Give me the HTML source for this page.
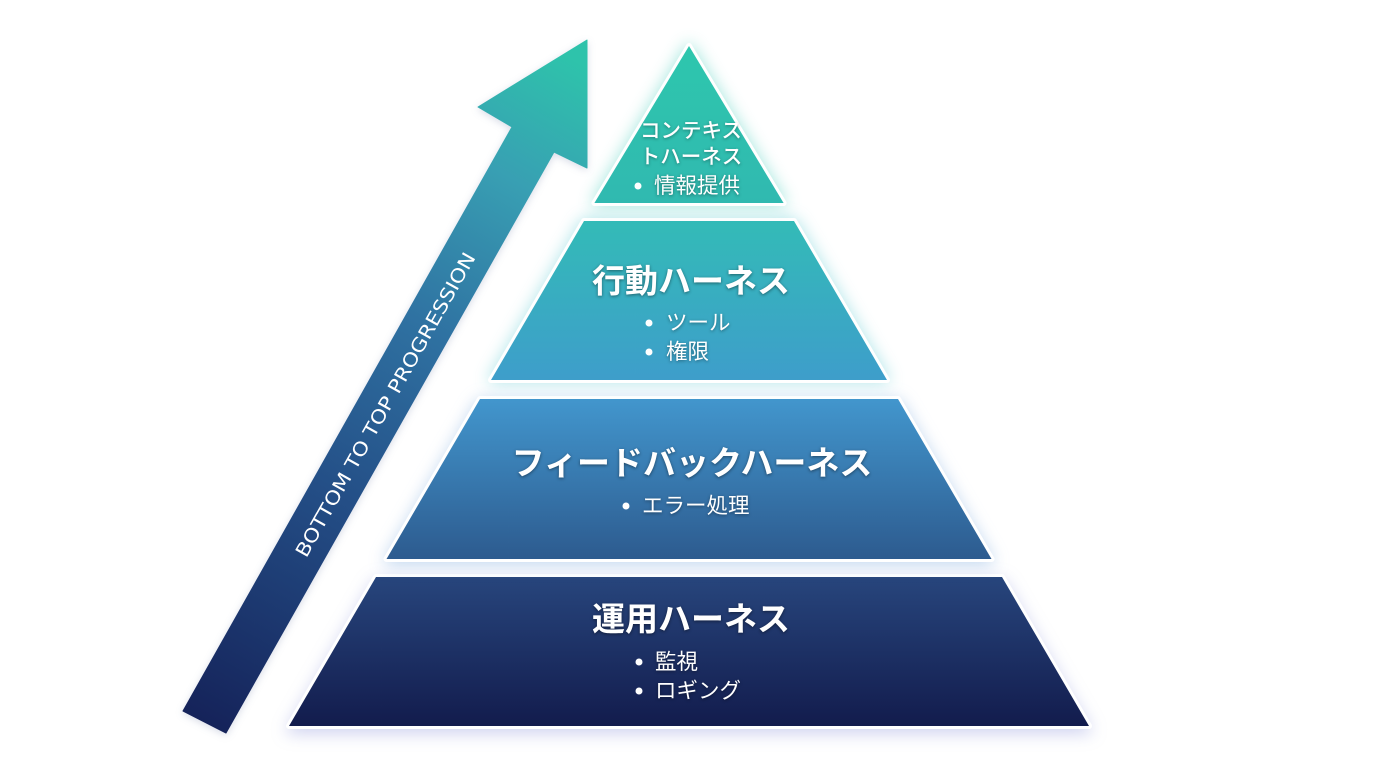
<!DOCTYPE html>
<html>
<head>
<meta charset="utf-8">
<style>
  html,body{margin:0;padding:0;background:#ffffff;}
  body{width:1376px;height:768px;overflow:hidden;}
  svg{display:block;}
  .jp{font-family:"Liberation Sans","Noto Sans CJK JP",sans-serif;fill:#ffffff;}
  .title{font-weight:700;font-size:33px;filter:drop-shadow(0 1.5px 1.5px rgba(0,0,0,0.45));}
  .item{font-weight:400;font-size:21.5px;filter:drop-shadow(0 1px 1.5px rgba(0,0,0,0.4));}
  .small{font-weight:500;font-size:20.5px;filter:drop-shadow(0 1px 1.5px rgba(0,0,0,0.35));}
</style>
</head>
<body>
<svg width="1376" height="768" viewBox="0 0 1376 768" xmlns="http://www.w3.org/2000/svg">
  <defs>
    <linearGradient id="pg" gradientUnits="userSpaceOnUse" x1="0" y1="41" x2="0" y2="729">
      <stop offset="0" stop-color="#2ec7ad"/>
      <stop offset="0.236" stop-color="#30b9b0"/>
      <stop offset="0.26" stop-color="#33bbb7"/>
      <stop offset="0.497" stop-color="#3e9dcb"/>
      <stop offset="0.52" stop-color="#4296cd"/>
      <stop offset="0.753" stop-color="#2d5b8f"/>
      <stop offset="0.78" stop-color="#27457c"/>
      <stop offset="1" stop-color="#121b4c"/>
    </linearGradient>
    <linearGradient id="ag" gradientUnits="userSpaceOnUse" x1="205" y1="722" x2="575" y2="60">
      <stop offset="0" stop-color="#15235a"/>
      <stop offset="0.35" stop-color="#244f87"/>
      <stop offset="0.6" stop-color="#2f72a2"/>
      <stop offset="0.82" stop-color="#389fb3"/>
      <stop offset="1" stop-color="#2ec3ab"/>
    </linearGradient>
  </defs>

  <!-- Arrow -->
  <g style="filter:drop-shadow(0 2px 4px rgba(40,60,120,0.18));">
    <polygon points="587,40 587,168 554,152 226,733 183,711 512,127 478,107" fill="url(#ag)" stroke="url(#ag)" stroke-width="1" stroke-linejoin="round"/>
  </g>
  <text x="386" y="405" transform="rotate(-60.6 386 405)" text-anchor="middle" dominant-baseline="central"
        font-family="'DejaVu Sans','Liberation Sans',sans-serif" font-size="19" font-weight="400" fill="#ffffff"
        textLength="346" lengthAdjust="spacingAndGlyphs">BOTTOM TO TOP PROGRESSION</text>

  <!-- Layer 4 (bottom) -->
  <g style="filter:drop-shadow(0 5px 8px rgba(90,100,200,0.28));">
    <polygon points="376,577 1002,577 1089,726 289,726" fill="#ffffff" stroke="#ffffff" stroke-width="6" stroke-linejoin="round"/>
    <polygon points="376,577 1002,577 1089,726 289,726" fill="url(#pg)"/>
  </g>
  <!-- Layer 3 -->
  <g style="filter:drop-shadow(0 3px 8px rgba(80,140,210,0.35));">
    <polygon points="480,399 898,399 991.5,559 386.5,559" fill="#ffffff" stroke="#ffffff" stroke-width="6" stroke-linejoin="round"/>
    <polygon points="480,399 898,399 991.5,559 386.5,559" fill="url(#pg)"/>
  </g>
  <!-- Layer 2 -->
  <g style="filter:drop-shadow(0 0 8px rgba(60,190,200,0.4));">
    <polygon points="584,221 794,221 887,380 491,380" fill="#ffffff" stroke="#ffffff" stroke-width="6" stroke-linejoin="round"/>
    <polygon points="584,221 794,221 887,380 491,380" fill="url(#pg)"/>
  </g>
  <!-- Layer 1 (top) -->
  <g style="filter:drop-shadow(0 0 8px rgba(50,200,180,0.45));">
    <polygon points="689,46 783.6,203 594.4,203" fill="#ffffff" stroke="#ffffff" stroke-width="6" stroke-linejoin="round"/>
    <polygon points="689,46 783.6,203 594.4,203" fill="url(#pg)"/>
  </g>

  <!-- Top text -->
  <text class="jp small" x="691" y="131" text-anchor="middle" dominant-baseline="central">コンテキス</text>
  <text class="jp small" x="691" y="157" text-anchor="middle" dominant-baseline="central">トハーネス</text>
  <circle cx="638" cy="186" r="3.5" fill="#ffffff"/>
  <text class="jp item" x="654" y="186" dominant-baseline="central">情報提供</text>

  <!-- Layer 2 text -->
  <text class="jp title" x="691" y="281" text-anchor="middle" dominant-baseline="central">行動ハーネス</text>
  <circle cx="649" cy="323" r="3.5" fill="#ffffff"/>
  <text class="jp item" x="666" y="323" dominant-baseline="central">ツール</text>
  <circle cx="649" cy="352" r="3.5" fill="#ffffff"/>
  <text class="jp item" x="666" y="352" dominant-baseline="central">権限</text>

  <!-- Layer 3 text -->
  <text class="jp title" x="692" y="463" text-anchor="middle" dominant-baseline="central">フィードバックハーネス</text>
  <circle cx="626" cy="506" r="3.5" fill="#ffffff"/>
  <text class="jp item" x="642" y="506" dominant-baseline="central">エラー処理</text>

  <!-- Layer 4 text -->
  <text class="jp title" x="691" y="619" text-anchor="middle" dominant-baseline="central">運用ハーネス</text>
  <circle cx="639" cy="662" r="3.5" fill="#ffffff"/>
  <text class="jp item" x="655" y="662" dominant-baseline="central">監視</text>
  <circle cx="639" cy="691" r="3.5" fill="#ffffff"/>
  <text class="jp item" x="655" y="691" dominant-baseline="central">ロギング</text>
</svg>
</body>
</html>
